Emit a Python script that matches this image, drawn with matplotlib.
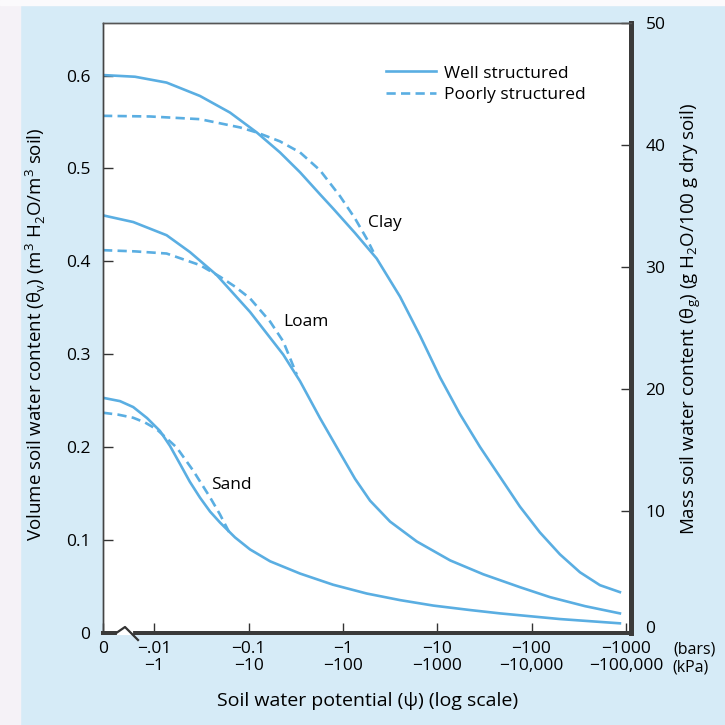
import matplotlib
matplotlib.use('Agg')
import matplotlib.pyplot as plt
from matplotlib.patches import Rectangle
from matplotlib.lines import Line2D

plt.rcParams['font.family'] = ['Open Sans', 'DejaVu Sans']

# soil water potential in bars (negative) and volume water content
clay_well_psi = [-0.00286, -0.00624, -0.0135, -0.0305, -0.0635, -0.122, -0.215, -0.351, -0.571, -0.791,
                 -1.343, -2.28, -4.03, -6.56, -10.7, -17.4, -28.4, -46.2, -75.3, -122.7, -200, -326, -531, -865]
clay_well_theta = [0.6006, 0.5988, 0.5925, 0.5781, 0.5602, 0.5388, 0.5173, 0.4959, 0.4722, 0.4566,
                   0.4305, 0.4030, 0.3620, 0.3201, 0.2751, 0.2355, 0.2001, 0.1680, 0.1358, 0.1080,
                   0.0844, 0.0651, 0.0512, 0.0437]
clay_poor_psi = [-0.00286, -0.0090, -0.0305, -0.0811, -0.122, -0.215, -0.351, -0.571, -0.931, -1.343, -1.787, -2.10]
clay_poor_theta = [0.5567, 0.5560, 0.5531, 0.5442, 0.5388, 0.5292, 0.5173, 0.4981, 0.4702, 0.4462, 0.4244, 0.4102]

loam_well_psi = [-0.00286, -0.00598, -0.0135, -0.0239, -0.0459, -0.1035, -0.233, -0.351, -0.571, -0.931,
                 -1.343, -1.94, -3.16, -6.06, -13.7, -30.8, -75.5, -157, -369, -865]
loam_well_theta = [0.4495, 0.4423, 0.4281, 0.4099, 0.3852, 0.3455, 0.2995, 0.2709, 0.2312, 0.1937,
                   0.1658, 0.1422, 0.1197, 0.0983, 0.0779, 0.0629, 0.0490, 0.0383, 0.0286, 0.0208]
loam_poor_psi = [-0.00286, -0.00624, -0.0135, -0.0305, -0.0498, -0.0718, -0.1035, -0.169, -0.233, -0.324]
loam_poor_theta = [0.4120, 0.4107, 0.4084, 0.3959, 0.3834, 0.3727, 0.3601, 0.3351, 0.3137, 0.2780]

sand_well_psi = [-0.00286, -0.00433, -0.00598, -0.00837, -0.01148, -0.01466, -0.0187, -0.0238, -0.0305,
                 -0.0390, -0.0498, -0.0718, -0.1035, -0.169, -0.351, -0.785, -1.787, -4.03, -9.10,
                 -22.3, -46.3, -200, -865]
sand_well_theta = [0.2530, 0.2494, 0.2430, 0.2312, 0.2173, 0.2012, 0.1819, 0.1626, 0.1455,
                   0.1305, 0.1186, 0.1026, 0.0897, 0.0769, 0.0637, 0.0517, 0.0422, 0.0351, 0.0292,
                   0.0244, 0.0208, 0.0147, 0.0101]
sand_poor_psi = [-0.00286, -0.00412, -0.00598, -0.00796, -0.0106, -0.0173, -0.0259, -0.0390, -0.0498, -0.0635]
sand_poor_theta = [0.2369, 0.2349, 0.2315, 0.2264, 0.2191, 0.1994, 0.1744, 0.1458, 0.1272, 0.1065]

xtick_bars = [0.01, 0.1, 1, 10, 100, 1000]
xtick_labels = ['\u2212.01\n\u22121', '\u22120.1\n\u221210', '\u22121\n\u2212100',
                '\u221210\n\u22121000', '\u2212100\n\u221210,000', '\u22121000\n\u2212100,000']
left_ticks = [0, 0.1, 0.2, 0.3, 0.4, 0.5, 0.6]
left_labels = ['0', '0.1', '0.2', '0.3', '0.4', '0.5', '0.6']
right_ticks = [0, 10, 20, 30, 40, 50]

blue = '#5aaee2'
bg = '#d6ebf7'
dash = (0, (3.5, 2))

fig = plt.figure(figsize=(7.25, 7.25), dpi=100, facecolor=bg)
fig.patches.append(Rectangle((0, 0), 20 / 725, 1, transform=fig.transFigure, color='#f5f2f7', zorder=-1))
fig.patches.append(Rectangle((0, 1 - 5 / 725), 1, 5 / 725, transform=fig.transFigure, color='#fbfafc', zorder=-1))

ax = fig.add_axes([103 / 725, 1 - 632.7 / 725, 528.5 / 725, 610 / 725])
ax.set_facecolor('white')
ax.set_xscale('log')
xmin, xmax = 10 ** -2.544, 10 ** 3.06
ax.set_xlim(xmin, xmax)
ax.set_ylim(0, 0.657)

def neg(v):
    return [-p for p in v]

lw = 1.9
ax.plot(neg(clay_well_psi), clay_well_theta, color=blue, lw=lw)
ax.plot(neg(clay_poor_psi), clay_poor_theta, color=blue, lw=lw, ls=dash)
ax.plot(neg(loam_well_psi), loam_well_theta, color=blue, lw=lw)
ax.plot(neg(loam_poor_psi), loam_poor_theta, color=blue, lw=lw, ls=dash)
ax.plot(neg(sand_well_psi), sand_well_theta, color=blue, lw=lw)
ax.plot(neg(sand_poor_psi), sand_poor_theta, color=blue, lw=lw, ls=dash)

ax.text(2.8, 0.441, 'Clay', fontsize=12.5, ha='center', va='center')
ax.text(0.41, 0.335, 'Loam', fontsize=12.5, ha='center', va='center')
ax.text(0.066, 0.159, 'Sand', fontsize=12.5, ha='center', va='center')

handles = [Line2D([], [], color=blue, lw=lw), Line2D([], [], color=blue, lw=lw, ls=dash)]
ax.legend(handles, ['Well structured', 'Poorly structured'], loc='upper left',
          bbox_to_anchor=(0.5355, 0.93), frameon=False, fontsize=12.5, borderpad=0,
          borderaxespad=0, handlelength=2.9, handletextpad=0.45, labelspacing=0.3)

ax.set_xticks([xmin] + xtick_bars)
ax.set_xticklabels(['0\n '] + xtick_labels, fontsize=12.5, linespacing=1.05)
ax.minorticks_off()
ax.set_yticks(left_ticks)
ax.set_yticklabels(left_labels, fontsize=12.5)
ax.tick_params(direction='in', length=7, width=1, color='#333333')
ax.tick_params(axis='x', pad=6)
ax.tick_params(axis='y', pad=9)

ax.set_xlabel('Soil water potential (\u03c8) (log scale)', fontsize=14, labelpad=13)
ax.set_ylabel('Volume soil water content (\u03b8$_\\mathregular{v}$) (m$^\\mathregular{3}$ H$_\\mathregular{2}$O/m$^\\mathregular{3}$ soil)',
              fontsize=13.5)
ax.yaxis.set_label_coords(-0.104, 0.49)

ax2 = ax.twinx()
ax2.set_ylim(0, 50)
ax2.set_yticks(right_ticks)
ax2.set_yticklabels([str(t) for t in right_ticks], fontsize=12.5)
ax2.tick_params(direction='in', length=7, width=1, color='#333333', pad=10)
ax2.get_yticklabels()[0].set_va('baseline')
ax2.set_ylabel('Mass soil water content (\u03b8$_\\mathregular{g}$) (g H$_\\mathregular{2}$O/100 g dry soil)',
               fontsize=13.5, rotation=90)
ax2.yaxis.set_label_coords(1.089, 0.515)

for a in (ax, ax2):
    a.spines['left'].set_linewidth(1)
    a.spines['top'].set_linewidth(1)
    a.spines['left'].set_color('#444444')
    a.spines['top'].set_color('#555555')
    a.spines['right'].set_linewidth(3.5)
    a.spines['right'].set_color('#3a3a3a')
    a.spines['bottom'].set_linewidth(2.8)
    a.spines['bottom'].set_color('#3a3a3a')

# axis break mark on the bottom spine
fig.lines.append(Line2D([119 / 725, 131 / 725], [1 - 632.7 / 725] * 2, transform=fig.transFigure,
                        color='white', lw=3))
brk_x = [117 / 725, 125 / 725, 138 / 725]
brk_y = [1 - 632.5 / 725, 1 - 627 / 725, 1 - 640 / 725]
fig.lines.append(Line2D(brk_x, brk_y, transform=fig.transFigure, color='#333333', lw=1.6))

fig.text(673 / 725, 1 - 650 / 725, '(bars)', fontsize=11.5, ha='left', va='center')
fig.text(672 / 725, 1 - 668 / 725, '(kPa)', fontsize=11.5, ha='left', va='center')

fig.savefig('out.png', dpi=100, facecolor=bg)
